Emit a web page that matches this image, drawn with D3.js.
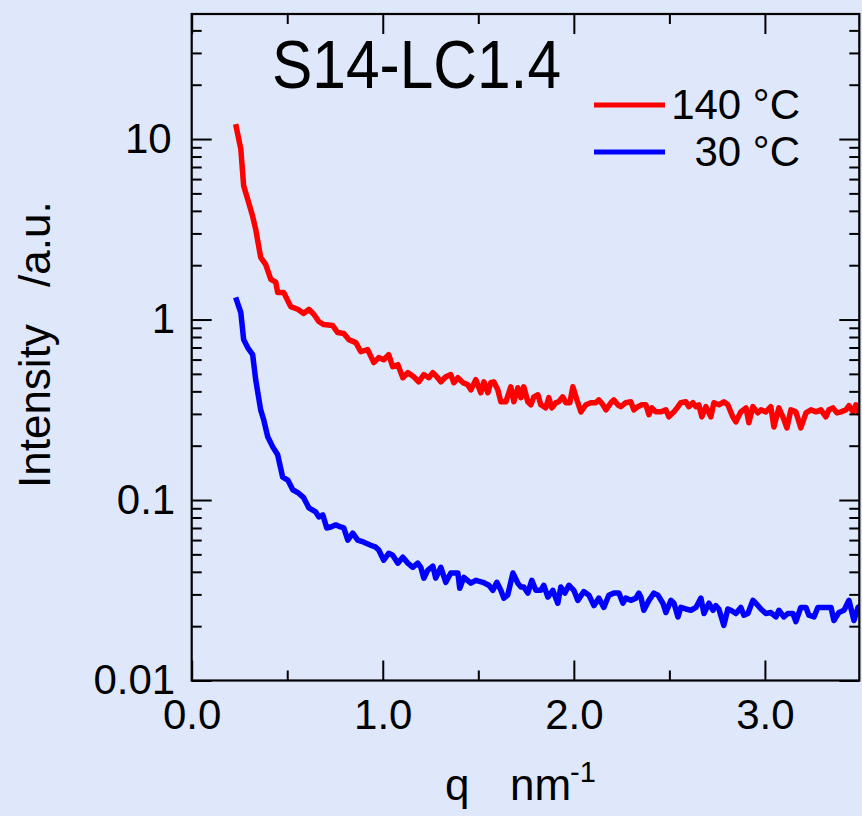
<!DOCTYPE html>
<html>
<head>
<meta charset="utf-8">
<script src="https://cdn.jsdelivr.net/npm/d3@7"></script>
<style>
  html, body { margin: 0; padding: 0; background: #dfe7fb; }
  svg { display: block; }
  text { font-family: "Liberation Sans", Arial, sans-serif; fill: #000; }
</style>
</head>
<body>
<svg id="chart" width="862" height="816"></svg>
<script>
// Scattering profiles, q in nm^-1, intensity in arbitrary units
const qHot = [0.230, 0.257, 0.272, 0.293, 0.319, 0.335, 0.361, 0.387, 0.414, 0.440,
  0.450, 0.482, 0.518, 0.555, 0.586, 0.613, 0.639, 0.665, 0.691, 0.738,
  0.764, 0.796, 0.822, 0.859, 0.885, 0.921, 0.953, 0.979, 1.005, 1.031,
  1.052, 1.079, 1.105, 1.131, 1.162, 1.188, 1.215, 1.241, 1.262, 1.283,
  1.304, 1.330, 1.356, 1.372, 1.393, 1.419, 1.445, 1.461, 1.487, 1.513,
  1.529, 1.550, 1.565, 1.581, 1.602, 1.618, 1.644, 1.660, 1.670, 1.686,
  1.707, 1.723, 1.738, 1.759, 1.775, 1.791, 1.812, 1.827, 1.853, 1.869,
  1.885, 1.906, 1.921, 1.942, 1.958, 1.979, 1.995, 2.016, 2.037, 2.063,
  2.089, 2.115, 2.131, 2.152, 2.168, 2.194, 2.209, 2.230, 2.246, 2.272,
  2.298, 2.314, 2.335, 2.356, 2.377, 2.393, 2.408, 2.429, 2.455, 2.482,
  2.497, 2.524, 2.545, 2.560, 2.586, 2.602, 2.623, 2.639, 2.654, 2.670,
  2.691, 2.717, 2.733, 2.759, 2.785, 2.806, 2.832, 2.848, 2.874, 2.901,
  2.916, 2.937, 2.963, 2.979, 3.005, 3.031, 3.047, 3.073, 3.094, 3.115,
  3.136, 3.162, 3.188, 3.215, 3.241, 3.267, 3.293, 3.319, 3.335, 3.356,
  3.377, 3.398, 3.424, 3.440, 3.461, 3.476, 3.492, 3.500];

const iHot = [12.1, 8.80, 5.50, 4.64, 3.73, 3.16, 2.21, 2.02, 1.67, 1.61,
  1.41, 1.41, 1.18, 1.14, 1.08, 1.14, 1.07, 0.975, 0.938, 0.926,
  0.847, 0.836, 0.774, 0.745, 0.664, 0.681, 0.577, 0.615, 0.599, 0.639,
  0.548, 0.562, 0.476, 0.508, 0.482, 0.452, 0.495, 0.476, 0.508, 0.482,
  0.452, 0.482, 0.495, 0.447, 0.476, 0.447, 0.435, 0.408, 0.464, 0.393,
  0.452, 0.393, 0.447, 0.452, 0.408, 0.350, 0.350, 0.393, 0.424, 0.350,
  0.419, 0.369, 0.424, 0.350, 0.337, 0.373, 0.383, 0.337, 0.324, 0.369,
  0.324, 0.346, 0.350, 0.373, 0.346, 0.346, 0.424, 0.359, 0.308, 0.337,
  0.346, 0.346, 0.359, 0.337, 0.316, 0.346, 0.359, 0.337, 0.329, 0.346,
  0.350, 0.316, 0.329, 0.337, 0.337, 0.297, 0.324, 0.308, 0.308, 0.316,
  0.289, 0.308, 0.329, 0.346, 0.350, 0.329, 0.346, 0.329, 0.337, 0.289,
  0.329, 0.289, 0.346, 0.337, 0.350, 0.337, 0.289, 0.271, 0.308, 0.324,
  0.268, 0.329, 0.304, 0.316, 0.308, 0.329, 0.254, 0.324, 0.289, 0.251,
  0.316, 0.308, 0.251, 0.304, 0.316, 0.308, 0.316, 0.289, 0.316, 0.324,
  0.304, 0.308, 0.316, 0.333, 0.308, 0.337, 0.304, 0.308];

const qCold = [0.230, 0.257, 0.272, 0.293, 0.319, 0.335, 0.361, 0.377, 0.398, 0.424,
  0.450, 0.476, 0.503, 0.529, 0.555, 0.586, 0.613, 0.649, 0.665, 0.686,
  0.707, 0.728, 0.754, 0.780, 0.796, 0.817, 0.843, 0.869, 0.901, 0.937,
  0.963, 0.979, 1.005, 1.031, 1.052, 1.079, 1.105, 1.131, 1.157, 1.183,
  1.199, 1.215, 1.236, 1.262, 1.277, 1.304, 1.330, 1.356, 1.393, 1.403,
  1.424, 1.461, 1.487, 1.524, 1.555, 1.576, 1.597, 1.618, 1.634, 1.654,
  1.681, 1.707, 1.723, 1.738, 1.759, 1.780, 1.801, 1.827, 1.843, 1.864,
  1.890, 1.916, 1.932, 1.953, 1.974, 2.000, 2.021, 2.052, 2.079, 2.105,
  2.131, 2.157, 2.183, 2.209, 2.236, 2.257, 2.272, 2.298, 2.325, 2.340,
  2.351, 2.366, 2.393, 2.419, 2.440, 2.466, 2.482, 2.508, 2.524, 2.545,
  2.560, 2.586, 2.613, 2.639, 2.665, 2.681, 2.707, 2.728, 2.743, 2.759,
  2.785, 2.806, 2.822, 2.848, 2.874, 2.890, 2.911, 2.937, 2.953, 2.979,
  3.005, 3.031, 3.058, 3.073, 3.099, 3.120, 3.147, 3.162, 3.188, 3.215,
  3.230, 3.257, 3.277, 3.304, 3.330, 3.346, 3.361, 3.387, 3.414, 3.440,
  3.466, 3.487, 3.500];

const iCold = [1.325, 1.094, 0.774, 0.699, 0.639, 0.464, 0.316, 0.278, 0.224, 0.197,
  0.178, 0.134, 0.129, 0.114, 0.110, 0.103, 0.0905, 0.0859, 0.0806, 0.0827,
  0.0700, 0.0709, 0.0728, 0.0709, 0.0700, 0.0599, 0.0655, 0.0599, 0.0584, 0.0562,
  0.0548, 0.0528, 0.0464, 0.0507, 0.0494, 0.0447, 0.0482, 0.0447, 0.0424, 0.0447,
  0.0424, 0.0369, 0.0409, 0.0430, 0.0369, 0.0424, 0.0350, 0.0394, 0.0394, 0.0324,
  0.0373, 0.0346, 0.0359, 0.0350, 0.0337, 0.0316, 0.0350, 0.0316, 0.0286, 0.0297,
  0.0394, 0.0346, 0.0330, 0.0330, 0.0305, 0.0359, 0.0316, 0.0316, 0.0337, 0.0290,
  0.0316, 0.0268, 0.0330, 0.0305, 0.0337, 0.0316, 0.0278, 0.0311, 0.0297, 0.0260,
  0.0286, 0.0254, 0.0297, 0.0305, 0.0305, 0.0268, 0.0286, 0.0278, 0.0286, 0.0305,
  0.0290, 0.0245, 0.0278, 0.0305, 0.0297, 0.0268, 0.0238, 0.0278, 0.0268, 0.0225,
  0.0254, 0.0249, 0.0245, 0.0254, 0.0286, 0.0235, 0.0268, 0.0245, 0.0260, 0.0249,
  0.0202, 0.0249, 0.0245, 0.0235, 0.0254, 0.0230, 0.0235, 0.0278, 0.0268, 0.0249,
  0.0235, 0.0238, 0.0225, 0.0245, 0.0225, 0.0235, 0.0235, 0.0212, 0.0254, 0.0254,
  0.0230, 0.0225, 0.0254, 0.0254, 0.0254, 0.0254, 0.0215, 0.0238, 0.0245, 0.0278,
  0.0215, 0.0254, 0.0260];

const seriesNames = ["140 \u00B0C", "30 \u00B0C"];
const seriesColors = ["#ff0000", "#0000ff"];

const xMajor = [0, 1, 2, 3];
const xMinor = [0.5, 1.5, 2.5];
const xLabels = ["0.0", "1.0", "2.0", "3.0"];
const yMajor = [0.01, 0.1, 1, 10];
const yLabels = ["0.01", "0.1", "1", "10"];
const yMinor = [2, 3, 4, 5, 6, 7, 8, 9].flatMap(m => [0.01, 0.1, 1, 10].map(p => m * p))
  .filter(v => v < 49.3);

const titleText = "S14-LC1.4";

const svg = d3.select("#chart");
const W = 862, H = 816;
const L = 191.7, R = 859.3, T = 14, B = 680.5;

svg.append("rect").attr("width", W).attr("height", H).attr("fill", "#dfe7fb");

const x = d3.scaleLinear().domain([0, 3.494]).range([L, R]);
const y = d3.scaleLog().domain([0.01, 49.3]).range([B, T]);

// clip region for the curves
svg.append("defs").append("clipPath").attr("id", "plotClip")
  .append("rect").attr("x", L).attr("y", T).attr("width", R - L).attr("height", B - T);

// curves
const line = d3.line().x(d => x(d[0])).y(d => y(d[1]));
const plot = svg.append("g").attr("clip-path", "url(#plotClip)");
[[qHot, iHot], [qCold, iCold]].forEach(([qs, is], k) => {
  plot.append("path")
    .datum(d3.zip(qs, is))
    .attr("d", line)
    .attr("fill", "none")
    .attr("stroke", seriesColors[k])
    .attr("stroke-width", 5.5)
    .attr("stroke-linejoin", "round");
});

// axes: all ticks point inward, on all four sides
function styleAxis(g) {
  g.select(".domain").remove();
  g.selectAll(".tick line").attr("stroke", "#000").attr("stroke-width", 2);
}
const noLabel = () => "";

// bottom
svg.append("g").attr("transform", `translate(0,${B})`)
  .call(d3.axisBottom(x).tickValues(xMajor).tickSizeInner(-20).tickSizeOuter(0)
    .tickFormat((d, i) => xLabels[i]))
  .call(styleAxis)
  .call(g => g.selectAll("text").attr("y", 48.5).attr("dy", null)
    .attr("font-size", 42).attr("font-family", "Liberation Sans, Arial, sans-serif"));
svg.append("g").attr("transform", `translate(0,${B})`)
  .call(d3.axisBottom(x).tickValues(xMinor).tickSizeInner(-10).tickSizeOuter(0).tickFormat(noLabel))
  .call(styleAxis);
// top
svg.append("g").attr("transform", `translate(0,${T})`)
  .call(d3.axisTop(x).tickValues(xMajor).tickSizeInner(-20).tickSizeOuter(0).tickFormat(noLabel))
  .call(styleAxis);
svg.append("g").attr("transform", `translate(0,${T})`)
  .call(d3.axisTop(x).tickValues(xMinor).tickSizeInner(-10).tickSizeOuter(0).tickFormat(noLabel))
  .call(styleAxis);
// left
svg.append("g").attr("transform", `translate(${L},0)`)
  .call(d3.axisLeft(y).tickValues(yMajor).tickSizeInner(-20).tickSizeOuter(0)
    .tickFormat((d, i) => yLabels[i]))
  .call(styleAxis)
  .call(g => g.selectAll("text")
    .attr("x", (d, i) => yLabels[i] === "10" ? -20 : -16.5)
    .attr("dy", null).attr("y", 13)
    .attr("font-size", 42).attr("font-family", "Liberation Sans, Arial, sans-serif"));
svg.append("g").attr("transform", `translate(${L},0)`)
  .call(d3.axisLeft(y).tickValues(yMinor).tickSizeInner(-10).tickSizeOuter(0).tickFormat(noLabel))
  .call(styleAxis);
// right
svg.append("g").attr("transform", `translate(${R},0)`)
  .call(d3.axisRight(y).tickValues(yMajor).tickSizeInner(-20).tickSizeOuter(0).tickFormat(noLabel))
  .call(styleAxis);
svg.append("g").attr("transform", `translate(${R},0)`)
  .call(d3.axisRight(y).tickValues(yMinor).tickSizeInner(-10).tickSizeOuter(0).tickFormat(noLabel))
  .call(styleAxis);

// frame
svg.append("rect").attr("x", L).attr("y", T).attr("width", R - L).attr("height", B - T)
  .attr("fill", "none").attr("stroke", "#000").attr("stroke-width", 2.2);

// axis titles
const xt = svg.append("text").attr("y", 800).attr("font-size", 44);
xt.append("tspan").attr("x", 445).text("q");
xt.append("tspan").attr("x", 510).text("nm");
xt.append("tspan").attr("x", 570).attr("y", 782).attr("font-size", 29).text("-1");

const yt = svg.append("text").attr("transform", "translate(50,488) rotate(-90)")
  .attr("font-size", 44);
yt.append("tspan").attr("x", 0).text("Intensity");
yt.append("tspan").attr("x", 201).text("/a.u.");

// sample name
svg.append("text").attr("x", 272).attr("y", 88)
  .attr("font-family", "Lato, 'Open Sans', sans-serif")
  .attr("font-size", 69)
  .attr("textLength", 289).attr("lengthAdjust", "spacingAndGlyphs")
  .text(titleText);

// legend
const legY = [105, 152];
seriesNames.forEach((name, k) => {
  svg.append("line").attr("x1", 594).attr("x2", 665).attr("y1", legY[k]).attr("y2", legY[k])
    .attr("stroke", seriesColors[k]).attr("stroke-width", 5);
  svg.append("text").attr("x", 800).attr("y", legY[k] + 13.5)
    .attr("text-anchor", "end").attr("font-size", 42).text(name);
});
</script>
</body>
</html>
